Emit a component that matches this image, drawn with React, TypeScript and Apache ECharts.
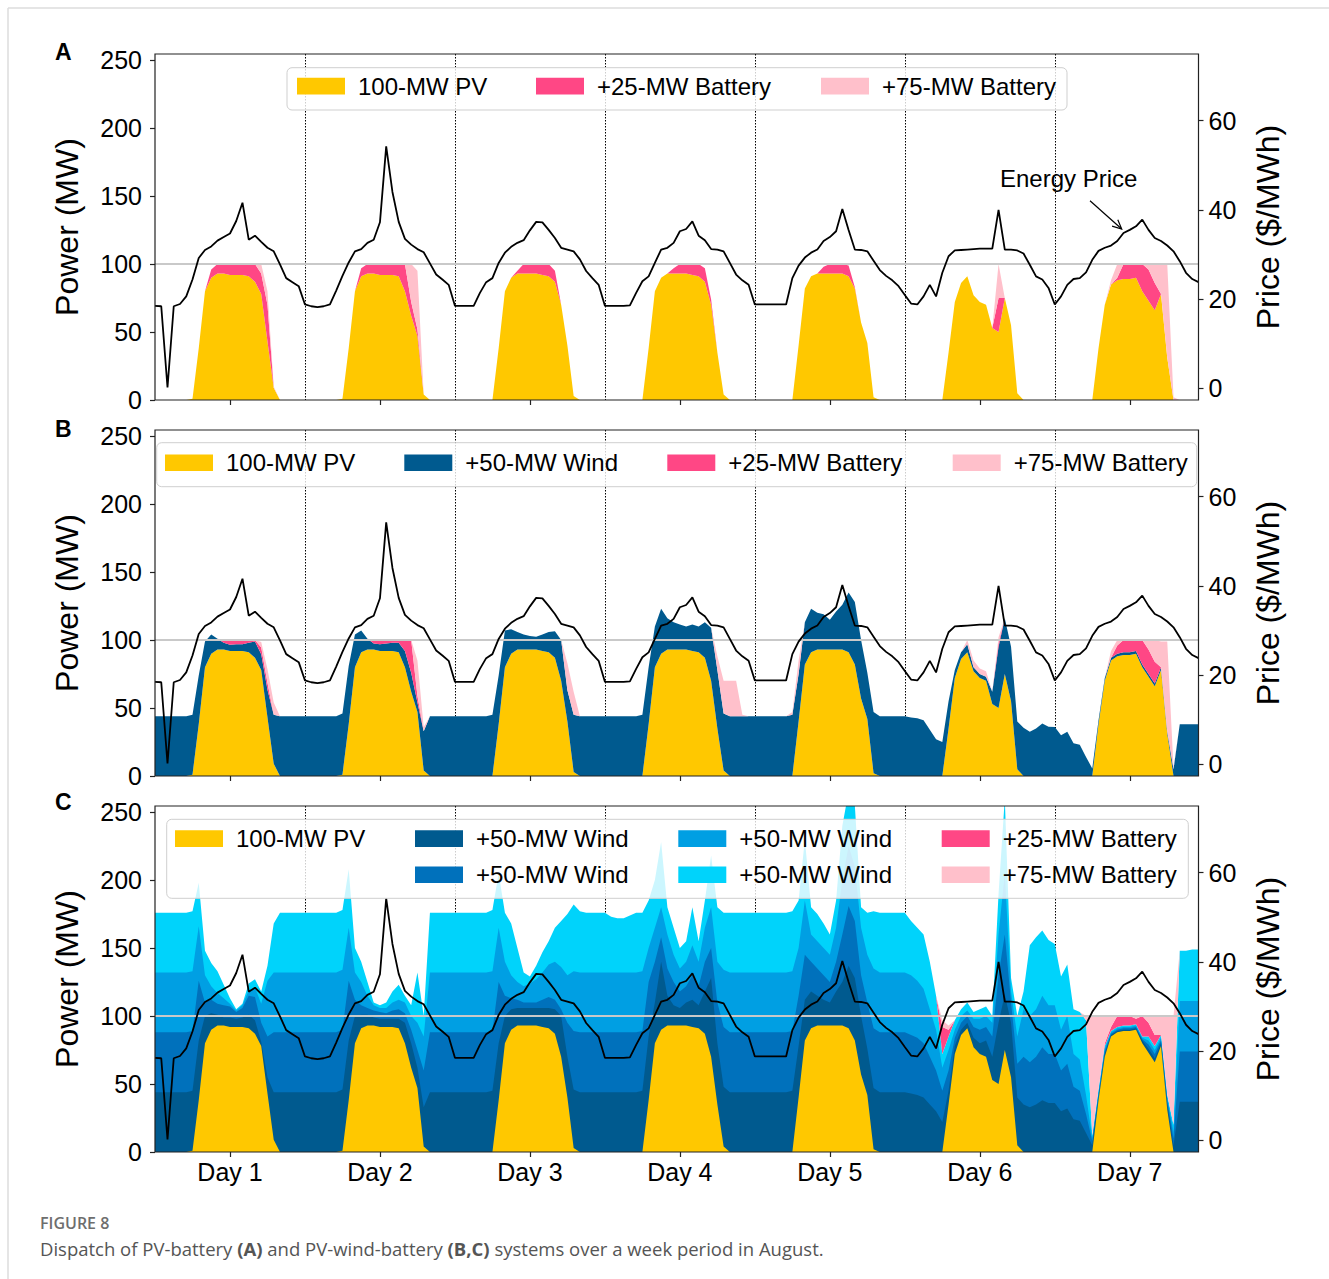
import React, { useEffect, useRef } from 'react';
import * as echarts from 'echarts';

// ---------------- data: hourly values over one week (168 h) ----------------
const HOURS: string[] = Array.from({ length: 168 }, (_, i) => String(i));
const DAY_LABELS = ['Day 1', 'Day 2', 'Day 3', 'Day 4', 'Day 5', 'Day 6', 'Day 7'];
const POWER_TICKS = [0, 50, 100, 150, 200, 250];
const PRICE_TICKS = [0, 20, 40, 60];

// Energy price ($/MWh)
const energyPrice = [
  18.5, 18.4, 0.2, 18.4, 18.9, 20.6, 24.4, 29.2, 31.0, 31.8, 33.1, 33.9, 34.7, 37.5, 41.6, 33.3, 34.2, 32.8, 31.5, 30.7, 27.8, 24.7, 23.8, 22.9,
  18.8, 18.4, 18.2, 18.4, 18.8, 21.9, 25.2, 28.2, 30.7, 31.2, 32.6, 33.3, 37.2, 54.2, 44.0, 37.3, 33.5, 32.2, 31.2, 30.5, 28.0, 25.5, 24.4, 23.2,
  18.5, 18.5, 18.5, 18.5, 21.4, 23.8, 24.7, 28.1, 30.4, 31.7, 32.6, 33.2, 35.4, 37.3, 37.2, 35.5, 33.7, 31.5, 31.1, 30.7, 28.9, 26.3, 24.7, 23.2,
  18.5, 18.5, 18.5, 18.5, 18.6, 21.4, 24.0, 25.1, 28.1, 31.1, 31.5, 32.6, 35.2, 35.7, 37.4, 34.2, 33.2, 31.2, 31.1, 30.7, 28.1, 25.5, 24.2, 23.2,
  18.8, 18.8, 18.8, 18.8, 18.8, 18.8, 24.7, 27.5, 29.3, 30.4, 31.1, 33.0, 33.9, 35.2, 40.2, 35.5, 31.1, 31.0, 30.7, 28.6, 26.5, 25.2, 24.2, 22.9,
  20.9, 19.0, 18.8, 20.6, 23.2, 20.6, 25.9, 29.6, 30.9, 31.0, 31.1, 31.2, 31.3, 31.3, 31.3, 40.0, 31.1, 31.1, 30.9, 30.2, 27.7, 25.1, 24.4, 22.5,
  18.8, 20.6, 23.2, 24.5, 24.7, 26.0, 28.8, 30.8, 31.5, 32.0, 33.0, 34.8, 35.5, 36.3, 37.8, 35.5, 33.7, 33.0, 32.0, 30.7, 28.5, 25.9, 24.5, 23.8,
];

// 100-MW PV output (MW), same in all three panels
const pvOutput = [
  0, 0, 0, 0, 0, 0, 1, 38, 80, 90, 93, 93, 92, 92, 92, 91, 87, 78, 43, 9, 0, 0, 0, 0,
  0, 0, 0, 0, 0, 0, 1, 38, 80, 91, 93, 93, 92, 92, 92, 91, 80, 62, 47, 4, 0, 0, 0, 0,
  0, 0, 0, 0, 0, 0, 0, 38, 80, 90, 93, 93, 93, 93, 92, 91, 87, 70, 40, 3, 0, 0, 0, 0,
  0, 0, 0, 0, 0, 0, 0, 38, 80, 90, 93, 93, 93, 93, 92, 91, 87, 70, 35, 4, 0, 0, 0, 0,
  0, 0, 0, 0, 0, 0, 0, 40, 82, 91, 93, 93, 93, 93, 93, 91, 82, 57, 42, 2, 0, 0, 0, 0,
  0, 0, 0, 0, 0, 0, 0, 35, 72, 86, 91, 77, 72, 70, 53, 50, 75, 55, 5, 0, 0, 0, 0, 0,
  0, 0, 0, 0, 0, 0, 0, 38, 70, 85, 88, 89, 89, 90, 80, 73, 66, 78, 31, 0, 0, 0, 0, 0,
];

// Panel A: battery discharge stacked on PV (MW)
const aBattery25 = [
  0, 0, 0, 0, 0, 0, 0, 0, 0, 6, 7, 7, 8, 8, 8, 9, 13, 15, 27, 0, 0, 0, 0, 0,
  0, 0, 0, 0, 0, 0, 0, 0, 0, 6, 7, 7, 8, 8, 8, 9, 20, 10, 5, 0, 0, 0, 0, 0,
  0, 0, 0, 0, 0, 0, 0, 0, 0, 0, 2, 7, 7, 7, 8, 9, 8, 0, 0, 0, 0, 0, 0, 0,
  0, 0, 0, 0, 0, 0, 0, 0, 0, 0, 0, 4, 7, 7, 8, 9, 10, 4, 0, 0, 0, 0, 0, 0,
  0, 0, 0, 0, 0, 0, 0, 0, 0, 0, 0, 5, 7, 7, 7, 8, 1, 0, 0, 0, 0, 0, 0, 0,
  0, 0, 0, 0, 0, 0, 0, 0, 0, 0, 0, 0, 0, 0, 0, 25, 0, 0, 0, 0, 0, 0, 0, 0,
  0, 0, 0, 0, 0, 0, 0, 0, 0, 0, 2, 11, 11, 10, 20, 23, 20, 0, 0, 0, 0, 0, 0, 0,
];
const aBattery75 = [
  0, 0, 0, 0, 0, 0, 0, 0, 0, 0, 0, 0, 0, 0, 0, 0, 0, 7, 10, 1, 0, 0, 0, 0,
  0, 0, 0, 0, 0, 0, 0, 0, 0, 0, 0, 0, 0, 0, 0, 0, 0, 28, 43, 0, 0, 0, 0, 0,
  0, 0, 0, 0, 0, 0, 0, 0, 0, 0, 0, 0, 0, 0, 0, 0, 0, 0, 0, 0, 0, 0, 0, 0,
  0, 0, 0, 0, 0, 0, 0, 0, 0, 0, 0, 0, 0, 0, 0, 0, 0, 0, 0, 0, 0, 0, 0, 0,
  0, 0, 0, 0, 0, 0, 0, 0, 0, 0, 0, 0, 0, 0, 0, 0, 0, 0, 0, 0, 0, 0, 0, 0,
  0, 0, 0, 0, 0, 0, 0, 0, 0, 0, 0, 0, 0, 0, 0, 25, 0, 0, 0, 0, 0, 0, 0, 0,
  0, 0, 0, 0, 0, 0, 0, 0, 0, 3, 10, 0, 0, 0, 0, 4, 14, 22, 69, 2, 0, 0, 0, 0,
];

// Panel B: wind and battery stacked on PV (MW)
const bWind = [
  44, 44, 44, 44, 44, 44, 44, 36, 19, 14, 8, 5, 4.5, 5, 5, 7, 12, 11.5, 20.5, 36, 44, 44, 44, 44,
  44, 44, 44, 44, 44, 44, 45, 43, 24, 16, 8, 4.5, 5, 5.5, 6, 7, 12, 14, 7, 29, 44, 44, 44, 44,
  44, 44, 44, 44, 44, 44, 45, 36, 27, 18, 13, 11, 10, 9.5, 12, 15, 19.5, 30, 23, 42, 44, 44, 44, 44,
  44, 44, 44, 44, 44, 44, 45, 42, 30, 33, 23, 20, 18.5, 17, 19.5, 19, 26, 39, 43, 42, 44, 44, 44, 44,
  44, 44, 44, 44, 44, 44, 45, 35, 31, 32, 27, 26, 22, 28, 33, 44, 46, 43, 34, 45, 44, 44, 44, 44,
  44, 43, 42.5, 41, 34, 27, 25, 20, 6, 5, 6, 3, 3, 3, 9, 45, 41, 40, 35, 35.5, 32.6, 35, 38.7, 36.2,
  36, 30, 32.6, 24, 23, 14, 5.6, 3, 2, 2, 2, 2, 2, 2, 2, 2, 2, 2, 2, 5, 38, 38, 38, 38,
];
const bBattery25 = [
  0, 0, 0, 0, 0, 0, 0, 0, 0, 0, 0, 2, 3.5, 3, 3, 2, 1, 5, 5, 0, 0, 0, 0, 0,
  0, 0, 0, 0, 0, 0, 0, 0, 0, 0, 0, 2.5, 3, 2.5, 2, 2, 8, 24, 5, 0, 0, 0, 0, 0,
  0, 0, 0, 0, 0, 0, 0, 0, 0, 0, 0, 0, 0, 0, 0, 0, 0, 0, 0, 0, 0, 0, 0, 0,
  0, 0, 0, 0, 0, 0, 0, 0, 0, 0, 0, 0, 0, 0, 0, 0, 0, 0, 0, 0, 0, 0, 0, 0,
  0, 0, 0, 0, 0, 0, 0, 0, 0, 0, 0, 0, 0, 0, 0, 0, 0, 0, 0, 0, 0, 0, 0, 0,
  0, 0, 0, 0, 0, 0, 0, 0, 0, 0, 0, 0, 0, 0, 0, 3, 0, 0, 0, 0, 0, 0, 0, 0,
  0, 0, 0, 0, 0, 0, 0, 0, 0, 0, 6, 9, 9, 8, 18, 18, 16, 0, 0, 0, 0, 0, 0, 0,
];
const bBattery75 = [
  0, 0, 0, 0, 0, 0, 0, 0, 0, 0, 0, 0, 0, 0, 0, 0, 0, 4, 10, 9, 0, 0, 0, 0,
  0, 0, 0, 0, 0, 0, 0, 0, 0, 0, 0, 0, 0, 0, 0, 0, 0, 0, 26, 3, 0, 0, 0, 0,
  0, 0, 0, 0, 0, 0, 0, 0, 0, 0, 0, 0, 0, 0, 0, 0, 0, 0, 20, 17, 0, 0, 0, 0,
  0, 0, 0, 0, 0, 0, 0, 0, 0, 0, 0, 0, 0, 0, 0, 0, 0, 0, 10, 24, 26, 26, 1, 0,
  0, 0, 0, 0, 0, 0, 2, 10, 0, 0, 0, 0, 0, 0, 0, 0, 0, 0, 0, 0, 0, 0, 0, 0,
  0, 0, 0, 0, 0, 0, 0, 0, 0, 0, 3, 5, 4, 4, 0, 4, 0, 0, 0, 0, 0, 0, 0, 0,
  0, 0, 0, 0, 0, 0, 0, 0, 0, 5, 4, 0, 0, 0, 0, 7, 16, 19, 66, 1, 0, 0, 0, 0,
];

// Panel C: upper edge of each wind layer (PV + wind 1..4, MW), batteries stacked on top
const cWind1Top = [
  44, 44, 44, 44, 44, 44, 45, 82, 100, 102, 101, 99, 99, 98, 99, 101, 97, 81, 55, 44, 44, 44, 44, 44,
  44, 44, 44, 44, 44, 44, 46, 82, 100, 101, 101, 99, 98, 98, 98, 98, 95, 80, 62, 33, 44, 44, 44, 44,
  44, 44, 44, 44, 44, 44, 45, 80, 100, 105, 106, 106, 106, 106, 106, 106, 105, 100, 70, 46, 44, 44, 44, 44,
  44, 44, 44, 44, 44, 44, 45, 85, 110, 140, 115, 108, 106, 110, 112, 108, 118, 128, 80, 48, 44, 44, 44, 44,
  44, 44, 44, 44, 44, 44, 45, 78, 112, 118, 115, 112, 110, 118, 125, 137, 128, 100, 76, 47, 44, 44, 44, 44,
  44, 43, 42, 40, 35, 30, 22, 45, 78, 90, 95, 84, 80, 82, 70, 95, 116, 95, 40, 35, 33, 35, 38, 36,
  36, 30, 32, 24, 23, 14, 5, 40, 72, 86, 89, 90, 90, 91, 82, 76, 69, 80, 35, 5, 37, 37, 37, 37,
];
const cWind2Top = [
  88, 88, 88, 88, 88, 88, 89, 126, 110, 112, 109, 108, 107, 103, 106, 115, 114, 95, 85, 88, 88, 88, 88, 88,
  88, 88, 88, 88, 88, 88, 90, 126, 112, 108, 106, 104, 103, 102, 104, 105, 102, 90, 75, 60, 88, 88, 88, 88,
  88, 88, 88, 88, 88, 88, 89, 125, 115, 113, 112, 110, 110, 110, 112, 114, 112, 105, 95, 89, 88, 88, 88, 88,
  88, 88, 88, 88, 88, 88, 89, 125, 140, 158, 135, 125, 118, 122, 130, 122, 140, 150, 110, 92, 88, 88, 88, 88,
  88, 88, 88, 88, 88, 88, 89, 115, 145, 140, 135, 130, 125, 140, 160, 181, 170, 130, 110, 91, 88, 88, 88, 88,
  88, 86, 84, 80, 70, 60, 45, 60, 84, 95, 100, 92, 90, 92, 85, 130, 160, 110, 65, 70, 66, 70, 77, 72,
  72, 60, 65, 48, 45, 28, 8, 42, 74, 87, 90, 91, 91, 92, 83, 79, 72, 82, 38, 10, 74, 74, 74, 74,
];
const cWind3Top = [
  132, 132, 132, 132, 132, 132, 133, 166, 130, 122, 117, 113, 109, 104, 108, 119, 121, 109, 126, 132, 132, 132, 132, 132,
  132, 132, 132, 132, 132, 132, 134, 165, 132, 125, 115, 108, 106, 106, 110, 112, 110, 100, 95, 85, 132, 132, 132, 132,
  132, 132, 132, 132, 132, 132, 133, 165, 140, 130, 125, 122, 124, 127, 132, 138, 140, 136, 130, 133, 132, 132, 132, 132,
  132, 132, 132, 132, 132, 132, 133, 150, 165, 180, 160, 145, 135, 140, 152, 140, 165, 180, 140, 134, 132, 132, 132, 132,
  132, 132, 132, 132, 132, 132, 133, 150, 185, 160, 155, 150, 145, 165, 200, 225, 210, 165, 145, 135, 132, 132, 132, 132,
  132, 130, 126, 120, 105, 90, 62, 75, 90, 100, 104, 98, 98, 100, 95, 160, 205, 118, 85, 105, 100, 105, 115, 108,
  108, 90, 100, 72, 68, 42, 10, 44, 76, 88, 91, 92, 92, 93, 84, 82, 75, 84, 40, 15, 111, 111, 111, 111,
];
const cWind4Top = [
  176, 176, 176, 176, 176, 176, 177, 198, 148, 139, 133, 123, 113, 105, 109, 124, 127, 118, 137, 168, 176, 176, 176, 176,
  176, 176, 176, 176, 176, 176, 178, 208, 150, 140, 125, 110, 108, 110, 118, 123, 115, 108, 132, 100, 176, 176, 176, 176,
  176, 176, 176, 176, 176, 176, 178, 205, 176, 168, 150, 132, 129, 137, 147, 155, 165, 170, 175, 182, 177, 176, 176, 176,
  176, 173, 172, 172, 174, 176, 176, 185, 200, 228, 180, 165, 150, 155, 180, 155, 185, 218, 180, 176, 176, 176, 176, 176,
  176, 176, 176, 176, 176, 176, 177, 185, 230, 180, 175, 168, 160, 185, 240, 265, 255, 180, 176, 177, 176, 176, 176, 176,
  176, 170, 165, 160, 140, 115, 72, 85, 97, 105, 110, 103, 105, 107, 100, 190, 260, 128, 100, 118, 152, 158, 163, 156,
  153, 129, 138, 105, 103, 97, 12, 46, 78, 89, 92, 93, 93, 94, 85, 85, 78, 86, 42, 20, 148, 148, 149, 149,
];
const cBattery25 = [
  ...new Array(120).fill(0),
  0, 0, 0, 0, 0, 0, 20, 5, 0, 0, 0, 0, 0, 0, 0, 0, 0, 0, 0, 0, 0, 0, 0, 0,
  0, 0, 0, 0, 0, 0, 0, 0, 2, 3, 8, 7, 7, 4, 15, 10, 8, 0, 0, 0, 0, 0, 0, 0,
];
const cBattery75 = [
  ...new Array(120).fill(0),
  0, 0, 0, 0, 0, 0, 5, 3, 0, 0, 0, 0, 0, 0, 0, 0, 0, 0, 0, 0, 0, 0, 0, 0,
  0, 0, 0, 0, 0, 3, 88, 54, 20, 8, 0, 0, 0, 2, 0, 5, 14, 14, 58, 80, 0, 0, 0, 0,
];

// ---------------- styles & layout ----------------
const FONT = '"Liberation Sans", Arial, Helvetica, sans-serif';
const CAPTION_FONT = '"Open Sans", "Noto Sans", sans-serif';
const C = {
  pv: '#ffc800',
  bat25: '#ff4785',
  bat75: '#ffc0cb',
  wind1: '#005a8f',
  wind2: '#0071bc',
  wind3: '#009fe3',
  wind4: '#00d3fb',
};
const GRID_LEFT = 155;
const GRID_WIDTH = 1043.5;
const GRID_HEIGHT = 346;
const GRID_TOPS = [54, 430, 806];
const POWER_MAX = 254.5;
const PRICE_MIN = -2.6;
const PRICE_MAX = 74.9;

function area(name: string, data: number[], color: string, g: number, stack?: string) {
  return {
    type: 'line',
    name,
    data,
    xAxisIndex: g,
    yAxisIndex: g * 2,
    stack,
    symbol: 'none',
    showSymbol: false,
    silent: true,
    lineStyle: { width: 0, color },
    itemStyle: { color },
    areaStyle: { color, opacity: 1 },
    z: 2,
  };
}

function withHundredLine(s: any) {
  return {
    ...s,
    markLine: {
      silent: true,
      symbol: ['none', 'none'],
      label: { show: false },
      lineStyle: { color: '#c9c9c9', width: 2, type: 'solid' },
      data: [{ yAxis: 100 }],
      z: 5,
    },
  };
}

function priceLine(g: number) {
  return {
    type: 'line',
    name: 'Energy Price',
    data: energyPrice,
    xAxisIndex: g,
    yAxisIndex: g * 2 + 1,
    symbol: 'none',
    showSymbol: false,
    silent: true,
    lineStyle: { color: '#000', width: 1.8 },
    z: 6,
  };
}

function legend(box: number[], rows: number[], items: { label: string; color: string; x: number; row: number }[]) {
  const els: any[] = [
    {
      type: 'rect',
      z: 100,
      silent: true,
      shape: { x: box[0], y: box[1], width: box[2], height: box[3], r: 5 },
      style: { fill: 'rgba(255,255,255,0.8)', stroke: '#cfcfcf', lineWidth: 1 },
    },
  ];
  items.forEach((it) => {
    const cy = rows[it.row];
    els.push({
      type: 'rect',
      z: 101,
      silent: true,
      shape: { x: it.x, y: cy - 8.3, width: 48, height: 16.7 },
      style: { fill: it.color },
    });
    els.push({
      type: 'text',
      z: 101,
      silent: true,
      x: it.x + 61,
      y: cy,
      style: { text: it.label, fill: '#000', fontSize: 24, fontFamily: FONT, align: 'left', verticalAlign: 'middle' },
    });
  });
  return els;
}

function buildOption() {
  const grids = GRID_TOPS.map((top) => ({ left: GRID_LEFT, top, width: GRID_WIDTH, height: GRID_HEIGHT }));
  const tickStyle = { color: '#222', width: 1.2 };
  const xAxes = GRID_TOPS.map((_, g) => ({
    type: 'category',
    gridIndex: g,
    data: HOURS,
    boundaryGap: false,
    axisLine: { show: false },
    axisTick: { show: true, length: 5, interval: (i: number) => i % 24 === 12, lineStyle: tickStyle },
    axisLabel: {
      show: g === 2,
      interval: (i: number) => i % 24 === 12,
      formatter: (v: string) => DAY_LABELS[Math.floor(Number(v) / 24)],
      fontSize: 25,
      fontFamily: FONT,
      color: '#000',
      margin: 7,
    },
    splitLine: {
      show: true,
      interval: (i: number) => i > 0 && i % 24 === 0,
      lineStyle: { color: '#000', width: 1, type: [1.5, 1.5] },
    },
  }));
  const yAxes: any[] = [];
  GRID_TOPS.forEach((_, g) => {
    yAxes.push({
      type: 'value',
      gridIndex: g,
      position: 'left',
      min: 0,
      max: POWER_MAX,
      name: 'Power (MW)',
      nameLocation: 'middle',
      nameGap: 72,
      nameTextStyle: { fontSize: 32, fontFamily: FONT, color: '#000' },
      axisLine: { show: false },
      splitLine: { show: false },
      axisTick: { show: true, length: 5, customValues: POWER_TICKS, lineStyle: tickStyle },
      axisLabel: { customValues: POWER_TICKS, fontSize: 25, fontFamily: FONT, color: '#000', margin: 13 },
    });
    yAxes.push({
      type: 'value',
      gridIndex: g,
      position: 'right',
      min: PRICE_MIN,
      max: PRICE_MAX,
      name: 'Price ($/MWh)',
      nameLocation: 'middle',
      nameGap: 53,
      nameTextStyle: { fontSize: 32, fontFamily: FONT, color: '#000' },
      axisLine: { show: false },
      splitLine: { show: false },
      axisTick: { show: true, length: 5, customValues: PRICE_TICKS, lineStyle: tickStyle },
      axisLabel: { customValues: PRICE_TICKS, fontSize: 25, fontFamily: FONT, color: '#000', margin: 10 },
    });
  });

  const series: any[] = [
    // Panel A
    withHundredLine(area('100-MW PV', pvOutput, C.pv, 0, 'a')),
    area('+25-MW Battery', aBattery25, C.bat25, 0, 'a'),
    area('+75-MW Battery', aBattery75, C.bat75, 0, 'a'),
    priceLine(0),
    // Panel B
    withHundredLine(area('100-MW PV', pvOutput, C.pv, 1, 'b')),
    area('+50-MW Wind', bWind, C.wind1, 1, 'b'),
    area('+25-MW Battery', bBattery25, C.bat25, 1, 'b'),
    area('+75-MW Battery', bBattery75, C.bat75, 1, 'b'),
    priceLine(1),
    // Panel C (top layer + batteries stacked, lower layers drawn over it)
    area('+50-MW Wind (4)', cWind4Top, C.wind4, 2, 'c'),
    area('+25-MW Battery', cBattery25, C.bat25, 2, 'c'),
    area('+75-MW Battery', cBattery75, C.bat75, 2, 'c'),
    area('+50-MW Wind (3)', cWind3Top, C.wind3, 2),
    area('+50-MW Wind (2)', cWind2Top, C.wind2, 2),
    area('+50-MW Wind (1)', cWind1Top, C.wind1, 2),
    withHundredLine(area('100-MW PV', pvOutput, C.pv, 2)),
    priceLine(2),
  ];

  const frames = GRID_TOPS.map((top) => ({
    type: 'rect',
    z: 50,
    silent: true,
    shape: { x: GRID_LEFT, y: top, width: GRID_WIDTH, height: GRID_HEIGHT },
    style: { fill: 'none', stroke: '#222', lineWidth: 1.2 },
  }));

  const panelLetters = [
    ['A', 52],
    ['B', 429],
    ['C', 802],
  ].map(([t, y]) => ({
    type: 'text',
    z: 100,
    silent: true,
    x: 55,
    y: y as number,
    style: { text: t as string, fill: '#000', fontSize: 23, fontWeight: 'bold', fontFamily: FONT, align: 'left', verticalAlign: 'middle' },
  }));

  const graphics: any[] = [
    { type: 'line', silent: true, shape: { x1: 8, y1: 8, x2: 1329, y2: 8 }, style: { stroke: '#dddddd', lineWidth: 1.5 } },
    { type: 'line', silent: true, shape: { x1: 8, y1: 8, x2: 8, y2: 1279 }, style: { stroke: '#dddddd', lineWidth: 1.5 } },
    ...frames,
    ...panelLetters,
    ...legend([287, 67.7, 780, 42.3], [86], [
      { label: '100-MW PV', color: C.pv, x: 297, row: 0 },
      { label: '+25-MW Battery', color: C.bat25, x: 536, row: 0 },
      { label: '+75-MW Battery', color: C.bat75, x: 821, row: 0 },
    ]),
    ...legend([156.7, 442.7, 1040, 44], [462.7], [
      { label: '100-MW PV', color: C.pv, x: 165, row: 0 },
      { label: '+50-MW Wind', color: C.wind1, x: 404.3, row: 0 },
      { label: '+25-MW Battery', color: C.bat25, x: 667.3, row: 0 },
      { label: '+75-MW Battery', color: C.bat75, x: 952.7, row: 0 },
    ]),
    ...legend([166.7, 819.3, 1021.6, 79], [838.5, 874.7], [
      { label: '100-MW PV', color: C.pv, x: 175, row: 0 },
      { label: '+50-MW Wind', color: C.wind1, x: 415, row: 0 },
      { label: '+50-MW Wind', color: C.wind2, x: 415, row: 1 },
      { label: '+50-MW Wind', color: C.wind3, x: 678.3, row: 0 },
      { label: '+50-MW Wind', color: C.wind4, x: 678.3, row: 1 },
      { label: '+25-MW Battery', color: C.bat25, x: 941.7, row: 0 },
      { label: '+75-MW Battery', color: C.bat75, x: 941.7, row: 1 },
    ]),
    {
      type: 'text',
      z: 100,
      silent: true,
      x: 1000,
      y: 178,
      style: { text: 'Energy Price', fill: '#000', fontSize: 24, fontFamily: FONT, align: 'left', verticalAlign: 'middle' },
    },
    { type: 'line', z: 100, silent: true, shape: { x1: 1090, y1: 200.7, x2: 1121.7, y2: 229 }, style: { stroke: '#000', lineWidth: 1.2 } },
    {
      type: 'polyline',
      z: 100,
      silent: true,
      shape: { points: [[1117.8, 219.8], [1121.7, 229], [1112.1, 226.1]] },
      style: { stroke: '#000', fill: 'none', lineWidth: 1.2 },
    },
    {
      type: 'text',
      silent: true,
      x: 40,
      y: 1223,
      style: { text: 'FIGURE 8', fill: '#6e6e6e', fontSize: 16, fontWeight: 600, fontFamily: CAPTION_FONT, align: 'left', verticalAlign: 'middle' },
    },
    {
      type: 'text',
      silent: true,
      x: 40,
      y: 1248,
      style: {
        text: '{n|Dispatch of PV-battery }{b|(A)}{n| and PV-wind-battery }{b|(B,C)}{n| systems over a week period in August.}',
        align: 'left',
        verticalAlign: 'middle',
        rich: {
          n: { fill: '#555', color: '#555', fontSize: 18.5, fontFamily: CAPTION_FONT },
          b: { fill: '#555', color: '#555', fontSize: 18.5, fontWeight: 'bold', fontFamily: CAPTION_FONT },
        },
      },
    },
  ];

  return {
    animation: false,
    backgroundColor: '#ffffff',
    grid: grids,
    xAxis: xAxes,
    yAxis: yAxes,
    series,
    graphic: graphics,
  };
}

export default function App() {
  const ref = useRef<HTMLDivElement>(null);
  useEffect(() => {
    if (!ref.current) return;
    const chart = echarts.init(ref.current, null, { renderer: 'svg' });
    chart.setOption(buildOption() as any);
    return () => chart.dispose();
  }, []);
  return (
    <div
      ref={ref}
      style={{ position: 'absolute', left: 0, top: 0, width: 1329, height: 1279, background: '#fff' }}
    />
  );
}
